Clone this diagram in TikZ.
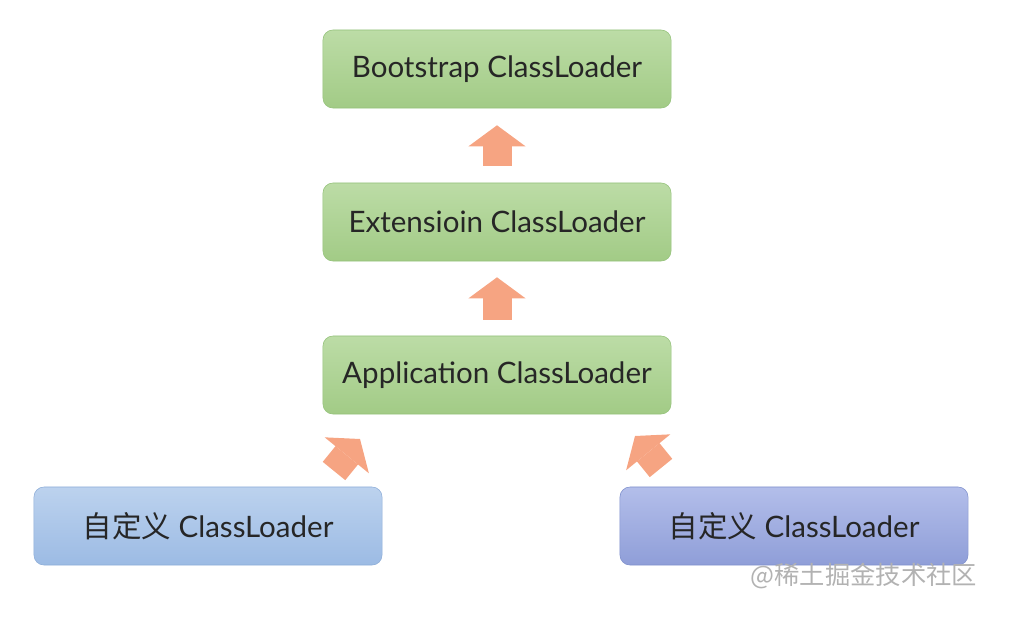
\documentclass[tikz,border=0pt]{standalone}
\usepackage{fontspec}
\setmainfont{Lato}
\newfontfamily\cjk{Noto Sans CJK SC}
\usetikzlibrary{arrows.meta}
\definecolor{greentop}{HTML}{BCDCA6}
\definecolor{greenbot}{HTML}{A2CB86}
\definecolor{greenline}{HTML}{94C27A}
\definecolor{bluetop}{HTML}{BCD2EE}
\definecolor{bluebot}{HTML}{9CBBE4}
\definecolor{blueline}{HTML}{8DADD8}
\definecolor{violettop}{HTML}{B3BEEA}
\definecolor{violetbot}{HTML}{8F9ED8}
\definecolor{violetline}{HTML}{7F90CC}
\definecolor{peach}{HTML}{F6A482}

\begin{document}
\begin{tikzpicture}[x=0.025cm, y=-0.025cm,
  loader/.style={rounded corners=0.25cm, minimum width=8.7cm, minimum height=1.95cm,
    inner sep=0pt, text=black!85, font=\fontsize{21}{25}\selectfont},
  green/.style={loader, draw=greenline, top color=greentop, bottom color=greenbot},
  custom/.style={loader, draw=blueline, top color=bluetop, bottom color=bluebot},
  custom2/.style={loader, draw=violetline, top color=violettop, bottom color=violetbot},
  blockarrow/.style={line width=0.725cm, draw=peach,
    -{Triangle[length=0.525cm, width=1.425cm, line width=0pt]}}]
  \useasboundingbox (0,0) rectangle (1025,618);
  \node[green] (boot) at (497,69) {Bootstrap ClassLoader};
  \node[green] (ext) at (497,222) {Extensioin ClassLoader};
  \node[green] (app) at (497,375) {Application ClassLoader};
  \node[custom] (cl1) at (208,526) {{\cjk 自定义} ClassLoader};
  \node[custom2] (cl2) at (794,526) {{\cjk 自定义} ClassLoader};
  % block arrows
  \draw[blockarrow, shorten <=0.425cm, shorten >=0.425cm] (ext) -- (boot);
  \draw[blockarrow, shorten <=0.4cm, shorten >=0.4cm] (app) -- (ext);
  \coordinate (l1) at (334,471);
  \coordinate (l2) at (360,439);
  \coordinate (r1) at (661,468);
  \coordinate (r2) at (635,436);
  \draw[blockarrow] (l1) -- (l2);
  \draw[blockarrow] (r1) -- (r2);
  \node[text=black!30, font=\cjk\fontsize{18}{22}\selectfont, anchor=east] (mark) at (982,576) {@稀土掘金技术社区};
\end{tikzpicture}
\end{document}
